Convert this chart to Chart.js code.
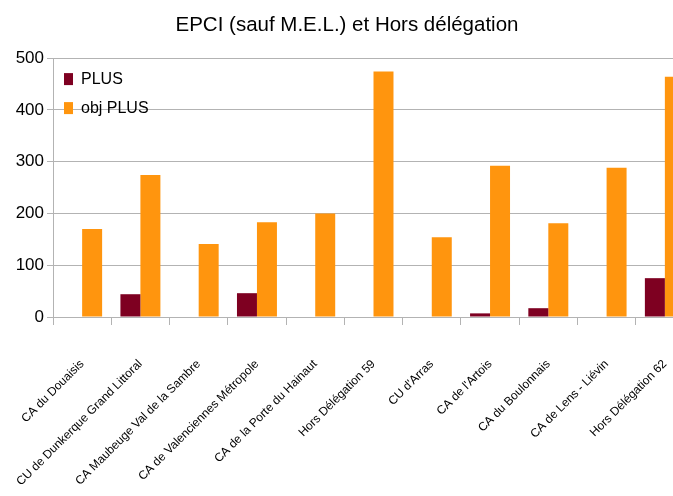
<!DOCTYPE html>
<html>
<head>
<meta charset="utf-8">
<script src="https://cdn.jsdelivr.net/npm/chart.js@4/dist/chart.umd.min.js"></script>
<style>
  html, body { margin: 0; padding: 0; background: #fff; overflow: hidden; }
  #wrap { width: 700px; height: 496px; }
</style>
</head>
<body>
<div id="wrap"><canvas id="chart" width="700" height="496"></canvas></div>
<script>
const categories = [
  "CA du Douaisis",
  "CU de Dunkerque Grand Littoral",
  "CA Maubeuge Val de la Sambre",
  "CA de Valenciennes Métropole",
  "CA de la Porte du Hainaut",
  "Hors Délégation 59",
  "CU d'Arras",
  "CA de l'Artois",
  "CA du Boulonnais",
  "CA de Lens - Liévin",
  "Hors Délégation 62"
];
const plus = [0, 44, 0, 46, 0, 0, 0, 7, 17, 0, 75];
const objPlus = [170, 274, 141, 183, 200, 474, 154, 292, 181, 288, 464];
const yTicks = [0, 100, 200, 300, 400, 500];

const FONT = "'Liberation Sans', Arial, sans-serif";
const GRID = "#b3b3b3";

// legend in "chartArea" mode gets its top reset to 0, put it back inside the plot
const legendInside = {
  id: "legendInside",
  afterLayout(chart) {
    const lg = chart.legend;
    if (!lg) return;
    const h = lg.bottom - lg.top;
    lg.top = chart.chartArea.top;
    lg.bottom = lg.top + h;
    lg.left = chart.chartArea.left - 2;
  }
};

new Chart(document.getElementById("chart").getContext("2d"), {
  type: "bar",
  data: {
    labels: categories,
    datasets: [
      { label: "PLUS", data: plus, backgroundColor: "#7e0021" },
      { label: "obj PLUS", data: objPlus, backgroundColor: "#ff950e" }
    ]
  },
  options: {
    responsive: false,
    animation: false,
    datasets: { bar: { categoryPercentage: 0.686, barPercentage: 1 } },
    layout: { padding: { left: 0, right: 6, top: 0, bottom: 0 } },
    plugins: {
      title: {
        display: true,
        text: "EPCI (sauf M.E.L.) et Hors délégation",
        color: "#000",
        font: { family: FONT, size: 20.5, weight: "normal", lineHeight: 1.2 },
        padding: { top: 13, bottom: 20.5 }
      },
      legend: {
        position: "chartArea",
        align: "start",
        labels: {
          boxWidth: 9,
          boxHeight: 12,
          padding: 13,
          color: "#000",
          font: { family: FONT, size: 16 }
        }
      },
      tooltip: { enabled: false }
    },
    scales: {
      x: {
        grid: { offset: true, drawOnChartArea: false, drawTicks: true, tickLength: 8, color: GRID },
        border: { color: GRID },
        ticks: {
          autoSkip: false,
          minRotation: 45,
          maxRotation: 45,
          padding: 32,
          color: "#000",
          font: { family: FONT, size: 12 }
        },
        afterFit: s => { s.height = 179; s.paddingLeft = 0; s.paddingRight = 0; }
      },
      y: {
        min: 0,
        max: 500,
        afterBuildTicks: s => { s.ticks = yTicks.map(v => ({ value: v })); },
        grid: { color: GRID, tickLength: 6 },
        border: { color: GRID },
        ticks: {
          padding: 3,
          color: "#000",
          font: { family: FONT, size: 17 }
        },
        afterFit: s => { s.width = 53; }
      }
    }
  },
  plugins: [legendInside]
});
</script>
</body>
</html>
